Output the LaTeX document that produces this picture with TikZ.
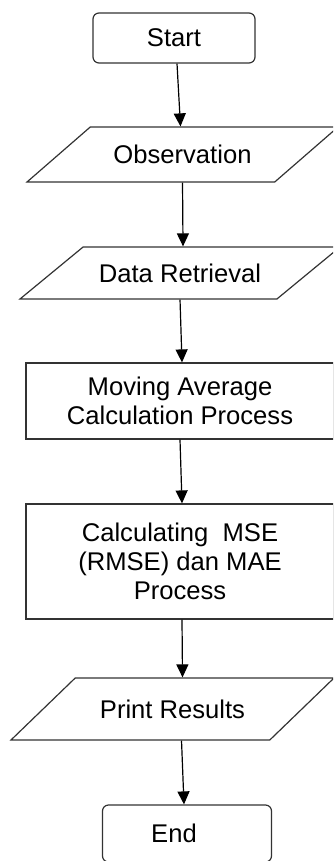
\documentclass[tikz,border=0pt]{standalone}
\usepackage{fontspec}
\setmainfont{Liberation Sans}
\usepackage{tikz}
\usetikzlibrary{shapes.geometric,arrows.meta}

\tikzset{
    term/.style={draw=black!80, line width=1.2pt, rounded corners=6pt, font=\fontsize{25.6pt}{29pt}\selectfont},
    proc/.style={draw=black!80, line width=1.2pt, align=center, font=\fontsize{25.6pt}{29pt}\selectfont},
    io/.style={draw=black!80, line width=1.2pt, trapezium, trapezium left angle=41, trapezium right angle=139,
        trapezium stretches body, inner xsep=0pt, text height=18.3pt, text depth=0pt,
        font=\fontsize{25.6pt}{29pt}\selectfont}
}

\begin{document}
\begin{tikzpicture}[x=1pt, y=-1pt, >={Triangle[length=13pt,width=12pt]}, line width=1.2pt]

    % Frame of the picture
    \useasboundingbox (0,0) rectangle (333,861);
    \clip (0,0) rectangle (333,861);

    % Terminals
    \node[term, minimum width=162pt, minimum height=50pt] (start) at (174,38) {Start};
    \node[term, minimum width=169pt, minimum height=57pt,
          label={[xshift=-13pt, font=\fontsize{25.6pt}{29pt}\selectfont]center:End}] (end) at (187,833.5) {};

    % Input / output
    \node[io, inner ysep=18.35pt, minimum width=311pt] (obs) at (182.5,154.5) {Observation};
    \node[io, inner ysep=16.85pt, trapezium left angle=39.5, trapezium right angle=140.5,
          minimum width=320pt] (data) at (180,273) {Data Retrieval};
    \node[io, inner ysep=21.85pt, trapezium left angle=44, trapezium right angle=136,
          minimum width=323pt] (print) at (172.5,709) {Print Results};

    % Processes
    \node[proc, minimum width=308pt, minimum height=76pt] (mov) at (180,401)
        {Moving Average\\Calculation Process};
    \node[proc, minimum width=308pt, minimum height=115pt] (calc) at (180,561.5)
        {Calculating\ \ MSE\\(RMSE) dan MAE\\Process};

    % Flow
    \draw[->] ([xshift=3pt]start.south) -- ([xshift=-2pt]obs.north);
    \draw[->] (obs.south) -- ([xshift=3pt]data.north);
    \draw[->] (data.south) -- ([xshift=2pt]mov.north);
    \draw[->] (mov.south) -- ([xshift=2pt]calc.north);
    \draw[->] ([xshift=2pt]calc.south) -- ([xshift=10pt]print.north);
    \draw[->] ([xshift=9pt]print.south) -- ([xshift=-3pt]end.north);

\end{tikzpicture}
\end{document}
